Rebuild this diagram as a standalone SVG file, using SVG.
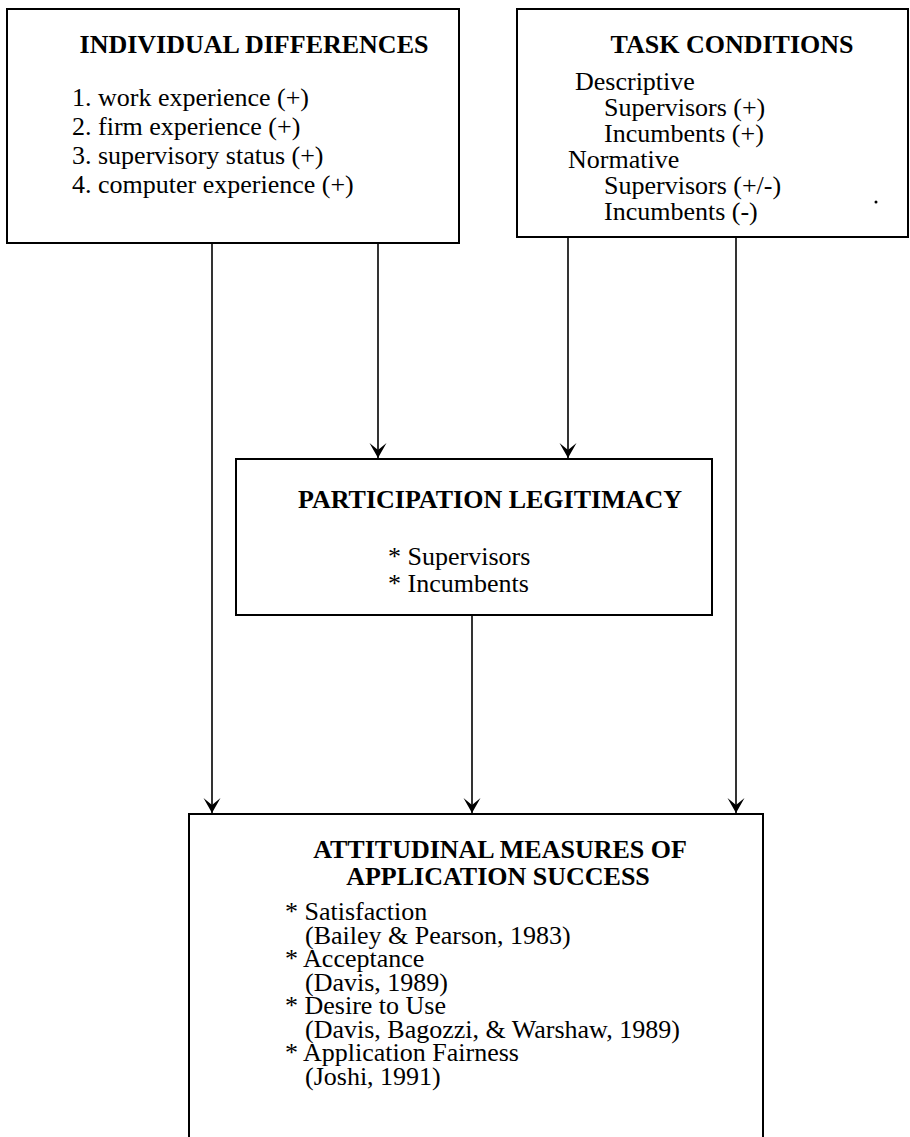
<svg xmlns="http://www.w3.org/2000/svg" width="910" height="1137" viewBox="0 0 910 1137">
<style>
.box{fill:#fff;stroke:#000;stroke-width:2}
.t{font-family:"Liberation Serif","Times New Roman",serif;font-size:26px;font-weight:bold;fill:#000;text-anchor:middle}
.b{font-family:"Liberation Serif","Times New Roman",serif;font-size:26px;fill:#000}
.c{stroke:#000;stroke-width:1.6;fill:none;marker-end:url(#ah)}
</style>
<defs>
<marker id="ah" markerUnits="userSpaceOnUse" markerWidth="20" markerHeight="22" viewBox="-17 -11 20 22" refX="0" refY="0" orient="auto">
<path d="M-15,-8.5 L0,0 L-15,8.5 L-8,0 Z" fill="#000"/>
</marker>
</defs>
<rect width="910" height="1137" fill="#fff"/>
<g id="connectors">
<line class="c" x1="212" y1="243" x2="212" y2="813"/>
<line class="c" x1="378" y1="243" x2="378" y2="458"/>
<line class="c" x1="568" y1="237" x2="568" y2="458"/>
<line class="c" x1="736" y1="237" x2="736" y2="813"/>
<line class="c" x1="472" y1="615" x2="472" y2="813"/>
</g>
<g id="individual-differences">
<rect class="box" x="7" y="9" width="452" height="234"/>
<text class="t" x="254" y="53">INDIVIDUAL DIFFERENCES</text>
<text class="b" x="72" y="106">1. work experience (+)</text>
<text class="b" x="72" y="135">2. firm experience (+)</text>
<text class="b" x="72" y="164">3. supervisory status (+)</text>
<text class="b" x="72" y="193">4. computer experience (+)</text>
</g>
<g id="task-conditions">
<rect class="box" x="517" y="9" width="391" height="228"/>
<text class="t" x="732" y="53">TASK CONDITIONS</text>
<text class="b" x="575" y="90">Descriptive</text>
<text class="b" x="604" y="116">Supervisors (+)</text>
<text class="b" x="604" y="142">Incumbents (+)</text>
<text class="b" x="568" y="168">Normative</text>
<text class="b" x="604" y="194">Supervisors (+/-)</text>
<text class="b" x="604" y="220">Incumbents (-)</text>
<circle cx="876" cy="202" r="1.5" fill="#000"/>
</g>
<g id="participation-legitimacy">
<rect class="box" x="236" y="459" width="476" height="156"/>
<text class="t" x="490" y="508">PARTICIPATION LEGITIMACY</text>
<text class="b" x="388" y="565">* Supervisors</text>
<text class="b" x="388" y="592">* Incumbents</text>
</g>
<g id="attitudinal-measures">
<rect class="box" x="189" y="814" width="574" height="340"/>
<text class="t" x="500" y="858">ATTITUDINAL MEASURES OF</text>
<text class="t" x="498" y="885">APPLICATION SUCCESS</text>
<text class="b" x="285" y="920">* Satisfaction</text>
<text class="b" x="305" y="944">(Bailey &amp; Pearson, 1983)</text>
<text class="b" x="285" y="967">* Acceptance</text>
<text class="b" x="305" y="991">(Davis, 1989)</text>
<text class="b" x="285" y="1014">* Desire to Use</text>
<text class="b" x="305" y="1038">(Davis, Bagozzi, &amp; Warshaw, 1989)</text>
<text class="b" x="285" y="1061">* Application Fairness</text>
<text class="b" x="305" y="1085">(Joshi, 1991)</text>
</g>
</svg>
